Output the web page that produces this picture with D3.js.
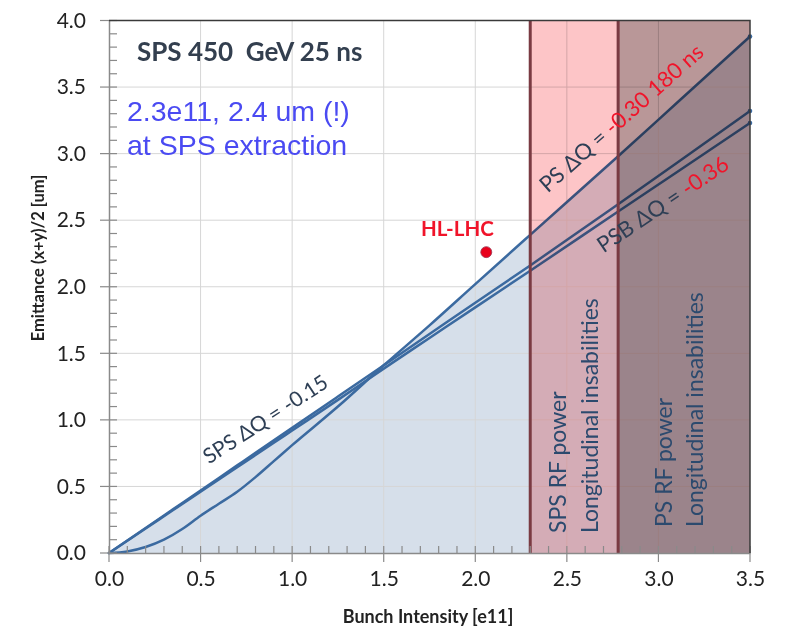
<!DOCTYPE html>
<html>
<head>
<meta charset="utf-8">
<script src="https://cdn.jsdelivr.net/npm/d3@7"></script>
<style>
  body { margin: 0; background: #fff; }
  svg { display: block; font-family: Lato, "Open Sans", sans-serif; }
</style>
</head>
<body>
<svg id="chart" width="795" height="634"></svg>
<script>
// bunch intensity [e11]
const intensity = [0, 0.1, 0.2, 0.3, 0.4, 0.5, 0.6, 0.7, 0.8, 0.9, 1.0, 1.25, 1.5, 1.75, 2.0, 2.3, 2.78, 3.1, 3.5];
// emittance limits [um]
const spsLimit = [0, 0.094, 0.188, 0.282, 0.376, 0.47, 0.564, 0.658, 0.752, 0.846, 0.94, 1.175, 1.41, 1.645, 1.88, 2.16, 2.62, 2.93, 3.32];
const psbLimit = [0, 0.092, 0.184, 0.276, 0.368, 0.46, 0.552, 0.644, 0.736, 0.828, 0.92, 1.15, 1.385, 1.615, 1.845, 2.12, 2.565, 2.86, 3.23];
const psLimit  = [0, 0.012, 0.045, 0.1, 0.18, 0.28, 0.37, 0.46, 0.57, 0.69, 0.81, 1.10, 1.41, 1.71, 2.02, 2.39, 2.98, 3.38, 3.88];

// intensity bands limited by RF power
const bandEdges = [2.3, 2.78, 3.5];
const bandColors = ["#fdc5c7", "#b99798"];

// HL-LHC target point
const hlPoint = { x: 2.06, y: 2.26 };

const xTicks = [0, 0.5, 1.0, 1.5, 2.0, 2.5, 3.0, 3.5];
const yTicks = [0, 0.5, 1.0, 1.5, 2.0, 2.5, 3.0, 3.5, 4.0];

const svg = d3.select("#chart");

const x = d3.scaleLinear().domain([0, 3.5]).range([109, 750]);
const y = d3.scaleLinear().domain([0, 4]).range([553, 20.5]);

const lineColor = "#3b6aa0";
const textDark = "#2e3f55";
const red = "#f0142a";

// blue area under the envelope
const envelope = intensity.map((d, i) => ({ x: d, y: Math.max(spsLimit[i], psbLimit[i], psLimit[i]) }));
svg.append("path")
  .datum(envelope)
  .attr("fill", "#d6dfea")
  .attr("d", d3.area().x(d => x(d.x)).y0(y(0)).y1(d => y(d.y)).curve(d3.curveMonotoneX));

// grid
svg.append("g")
  .selectAll("line")
  .data(xTicks.filter(d => d > 0 && d < 3.5))
  .join("line")
  .attr("x1", d => x(d)).attr("x2", d => x(d))
  .attr("y1", y(0)).attr("y2", y(4))
  .attr("stroke", "#d6d6d6");
svg.append("g")
  .selectAll("line")
  .data(yTicks.filter(d => d > 0 && d < 4))
  .join("line")
  .attr("x1", x(0)).attr("x2", x(3.5))
  .attr("y1", d => y(d)).attr("y2", d => y(d))
  .attr("stroke", "#d6d6d6");

// limit lines
const line = d3.line().x(d => x(d.x)).y(d => y(d.y)).curve(d3.curveMonotoneX);
[spsLimit, psbLimit, psLimit].forEach(s => {
  const pts = intensity.map((d, i) => ({ x: d, y: s[i] }));
  svg.append("path")
    .datum(pts)
    .attr("fill", "none")
    .attr("stroke", lineColor)
    .attr("stroke-width", 2.5)
    .attr("stroke-linecap", "round")
    .attr("d", line);
  svg.append("circle")
    .attr("cx", x(pts[pts.length - 1].x))
    .attr("cy", y(pts[pts.length - 1].y))
    .attr("r", 2.3)
    .attr("fill", lineColor);
});

// RF power bands
svg.append("g")
  .selectAll("rect")
  .data(bandColors)
  .join("rect")
  .attr("x", (d, i) => x(bandEdges[i]))
  .attr("width", (d, i) => x(bandEdges[i + 1]) - x(bandEdges[i]))
  .attr("y", y(4))
  .attr("height", y(0) - y(4))
  .attr("fill", d => d)
  .style("mix-blend-mode", "multiply");

svg.append("g")
  .selectAll("line")
  .data(bandEdges.slice(0, 2))
  .join("line")
  .attr("x1", d => x(d)).attr("x2", d => x(d))
  .attr("y1", y(0)).attr("y2", y(4))
  .attr("stroke", "#7a3a42")
  .attr("stroke-width", 3);

// axes
const xAxis = d3.axisBottom(x).tickValues(xTicks).tickFormat(d3.format(".1f")).tickSize(0);
const gx = svg.append("g").attr("transform", `translate(0,${y(0)})`).call(xAxis);
gx.select(".domain").attr("stroke", "#8a8a8a").attr("stroke-width", 1.5);
gx.selectAll("text").attr("font-size", 21).attr("fill", "#222").attr("dy", "1.45em").attr("font-family", "Lato");

const yAxis = d3.axisLeft(y).tickValues(yTicks).tickFormat(d3.format(".1f")).tickSize(0);
const gy = svg.append("g").attr("transform", `translate(${x(0)},0)`).call(yAxis);
gy.select(".domain").attr("stroke", "#8a8a8a").attr("stroke-width", 1.5);
gy.selectAll("text").attr("font-size", 21).attr("fill", "#222").attr("x", -23).attr("font-family", "Lato");

// major and minor ticks
const minorX = d3.range(0, 35).map(d => d / 10).filter(d => Math.round(d * 10) % 5 !== 0);
const minorY = d3.range(0, 40).map(d => d / 10).filter(d => Math.round(d * 10) % 5 !== 0);
const ticks = svg.append("g").attr("stroke", "#8a8a8a").attr("stroke-width", 1.2);
ticks.selectAll(".mx").data(minorX).join("line")
  .attr("x1", d => x(d)).attr("x2", d => x(d)).attr("y1", y(0)).attr("y2", y(0) - 7);
ticks.selectAll(".Mx").data(xTicks).join("line")
  .attr("x1", d => x(d)).attr("x2", d => x(d)).attr("y1", y(0) - 7).attr("y2", y(0) + 9);
ticks.selectAll(".my").data(minorY).join("line")
  .attr("x1", x(0)).attr("x2", x(0) + 8).attr("y1", d => y(d)).attr("y2", d => y(d));
ticks.selectAll(".My").data(yTicks).join("line")
  .attr("x1", x(0) - 9).attr("x2", x(0) + 8).attr("y1", d => y(d)).attr("y2", d => y(d));

// top and right borders
svg.append("path")
  .attr("d", `M${x(0)},${y(4)}H${x(3.5)}V${y(0)}`)
  .attr("fill", "none")
  .attr("stroke", "#3a3a3a")
  .attr("stroke-width", 1.5);

// axis titles
svg.append("text")
  .attr("x", 428).attr("y", 623)
  .attr("text-anchor", "middle")
  .attr("font-size", 18).attr("font-weight", "bold").attr("fill", "#222")
  .text("Bunch Intensity [e11]");
svg.append("text")
  .attr("transform", "translate(44,258) rotate(-90)")
  .attr("text-anchor", "middle")
  .attr("font-size", 16.5).attr("font-weight", "bold").attr("fill", "#222")
  .text("Emittance (x+y)/2 [um]");

// headings
svg.append("text")
  .attr("x", 137).attr("y", 61)
  .attr("font-size", 26).attr("font-weight", "bold").attr("fill", "#333f4f")
  .text("SPS 450  GeV 25 ns").style("white-space", "pre");
const blue = svg.append("g")
  .attr("font-family", "'Liberation Sans', Arial, sans-serif")
  .attr("font-size", 28.5).attr("fill", "#4a4af2");
blue.append("text").attr("x", 127).attr("y", 121).text("2.3e11, 2.4 um (!)");
blue.append("text").attr("x", 127).attr("y", 155).text("at SPS extraction");

// band labels
const bandText = [
  { x: 566, y: 533, t: "SPS RF power" },
  { x: 598, y: 533, t: "Longitudinal insabilities" },
  { x: 672, y: 527, t: "PS RF power" },
  { x: 703, y: 527, t: "Longitudinal insabilities" }
];
svg.append("g")
  .selectAll("text")
  .data(bandText)
  .join("text")
  .attr("transform", d => `translate(${d.x},${d.y}) rotate(-90)`)
  .attr("font-size", 23).attr("fill", "#2c4a6e")
  .text(d => d.t);

// line labels
svg.append("text")
  .attr("transform", `translate(${x(0.546)},${y(0.665)}) rotate(-33)`)
  .attr("font-size", 21).attr("fill", textDark)
  .text("SPS \u0394Q = -0.15");

const psLab = svg.append("text")
  .attr("transform", `translate(${x(2.395)},${y(2.70)}) rotate(-41.5)`)
  .attr("font-size", 22).attr("fill", textDark);
psLab.append("tspan").text("PS \u0394Q = ");
psLab.append("tspan").attr("fill", red).text("-0.30 180 ns");

const psbLab = svg.append("text")
  .attr("transform", `translate(${x(2.70)},${y(2.25)}) rotate(-34)`)
  .attr("font-size", 22).attr("fill", textDark);
psbLab.append("tspan").text("PSB \u0394Q = ");
psbLab.append("tspan").attr("fill", red).text("-0.36");

// HL-LHC point
svg.append("circle")
  .attr("cx", x(hlPoint.x)).attr("cy", y(hlPoint.y))
  .attr("r", 5.5)
  .attr("fill", "#e8001c")
  .attr("stroke", "#9a3a55").attr("stroke-width", 0.8);
svg.append("text")
  .attr("x", 421).attr("y", 236)
  .attr("font-size", 20.5).attr("font-weight", "bold").attr("fill", red)
  .text("HL-LHC");
</script>
</body>
</html>
